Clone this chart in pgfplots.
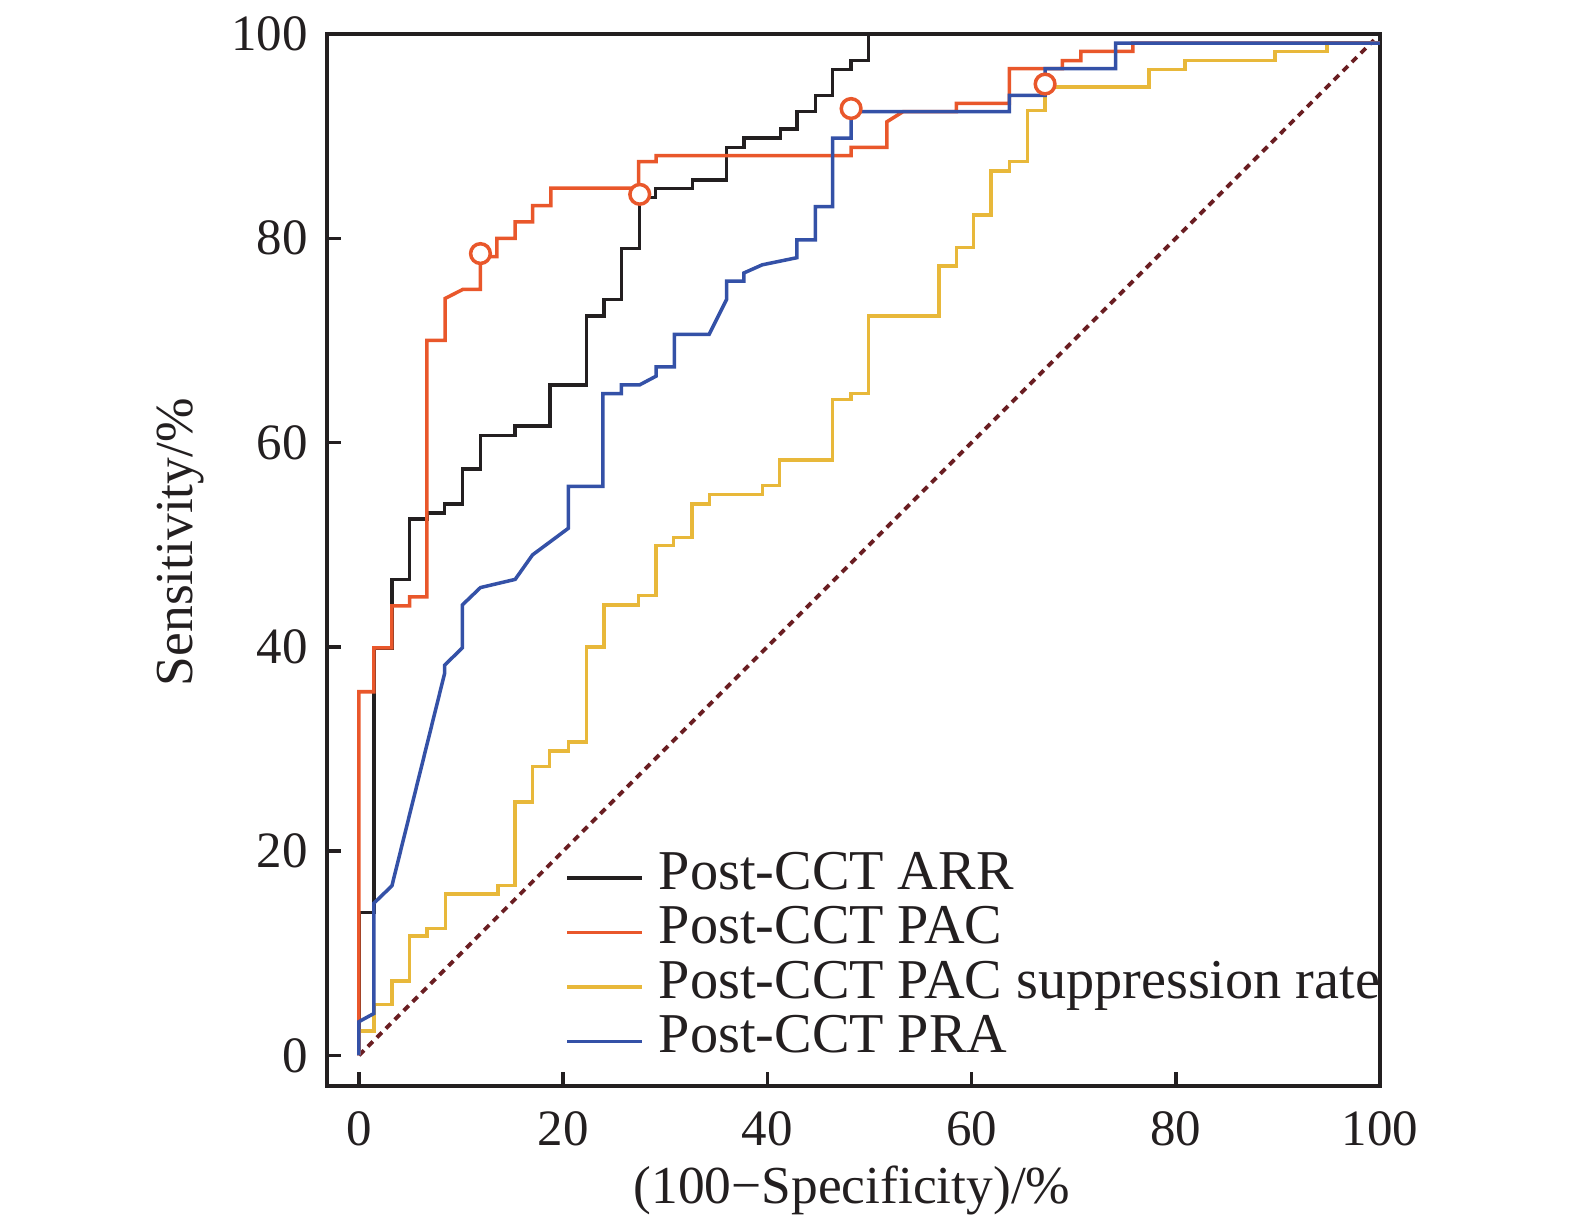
\documentclass[border=0pt]{standalone}
\usepackage{fontspec}
\setmainfont{Liberation Serif}
\usepackage{pgfplots}
\pgfplotsset{compat=1.18}
\definecolor{cblack}{HTML}{231F20}
\definecolor{corange}{HTML}{E9572B}
\definecolor{cyellow}{HTML}{E8B83A}
\definecolor{cblue}{HTML}{3451A7}
\definecolor{cdiag}{HTML}{6A1E22}
\begin{document}
\begin{tikzpicture}
\begin{axis}[
 at={(0,0)}, anchor=south west,
 scale only axis, width=10.53cm, height=10.52cm,
 xmin=-3.13, xmax=100, ymin=-3.0, ymax=100,
 axis line style={line width=1pt, color=cblack},
 tick align=inside, tick pos=left, major tick length=0.14cm,
 tick style={line width=1pt, color=cblack},
 xtick={0,20,...,100}, ytick={0,20,...,100},
 /pgf/number format/assume math mode=true,
 ticklabel style={font=\fontsize{14.5}{17}\selectfont, text=cblack},
 xticklabel style={yshift=-0.13cm},
 yticklabel style={xshift=-0.07cm},
 xlabel={(100−Specificity)/\%}, ylabel={Sensitivity/\%},
 label style={font=\fontsize{15.2}{18}\selectfont, text=cblack},
 xlabel style={at={(axis description cs:0.4986,-0.0989)}, anchor=center},
 ylabel style={at={(axis description cs:-0.1387,0.517)}, anchor=center},
 legend style={at={(axis cs:20.15,20.1)}, anchor=north west, draw=none, fill=none,
   inner sep=0pt, row sep=0pt, column sep=0.15cm,
   font=\fontsize{16}{16}\selectfont, text=cblack,
   nodes={inner sep=0pt, text height=11pt, text depth=4.5pt}},
 legend cell align=left,
 legend image code/.code={\draw[#1] (0cm,0cm) -- (0.75cm,0cm);},
]
\addlegendimage{line width=1pt, cblack}
\addlegendentry{Post-CCT ARR}
\addlegendimage{line width=1pt, corange}
\addlegendentry{Post-CCT PAC}
\addlegendimage{line width=1pt, cyellow}
\addlegendentry{Post-CCT PAC suppression rate}
\addlegendimage{line width=1pt, cblue}
\addlegendentry{Post-CCT PRA}

% reference diagonal
\addplot[forget plot, cdiag, line width=1.1pt, dash pattern=on 2pt off 1.6pt] coordinates {(0,0)(99.4,99.4)};

% ARR
\addplot[forget plot, cblack, line width=1pt] coordinates {
(0,0)(0,14.0)(1.47,14.0)(1.47,39.9)(3.23,39.9)(3.23,46.6)(4.97,46.6)(4.97,52.5)(6.66,52.5)(6.66,53.1)(8.39,53.1)(8.39,54.0)(10.13,54.0)(10.13,57.4)(11.9,57.4)(11.9,60.7)(15.3,60.7)(15.3,61.6)(18.7,61.6)(18.7,65.65)(22.3,65.65)(22.3,72.4)(24.0,72.4)(24.0,74.0)(25.7,74.0)(25.7,79.0)(27.5,79.0)(27.5,84.0)(29.06,84.0)(29.06,84.85)(32.65,84.85)(32.65,85.7)(36.0,85.7)(36.0,88.9)(37.7,88.9)(37.7,89.8)(41.3,89.8)(41.3,90.7)(42.9,90.7)(42.9,92.4)(44.7,92.4)(44.7,93.96)(46.4,93.96)(46.4,96.5)(48.2,96.5)(48.2,97.4)(49.9,97.4)(49.9,100)(100,100)};

% PAC suppression rate
\addplot[forget plot, cyellow, line width=1pt] coordinates {
(0,0)(0,2.38)(1.47,2.38)(1.47,5.0)(3.23,5.0)(3.23,7.3)(4.97,7.3)(4.97,11.7)(6.66,11.7)(6.66,12.4)(8.46,12.4)(8.46,15.8)(13.6,15.8)(13.6,16.65)(15.3,16.65)(15.3,24.8)(17.0,24.8)(17.0,28.3)(18.67,28.3)(18.67,29.8)(20.5,29.8)(20.5,30.7)(22.3,30.7)(22.3,40.0)(24.0,40.0)(24.0,44.1)(27.4,44.1)(27.4,45.0)(29.1,45.0)(29.1,49.9)(30.8,49.9)(30.8,50.7)(32.6,50.7)(32.6,54.0)(34.35,54.0)(34.35,54.9)(39.5,54.9)(39.5,55.8)(41.2,55.8)(41.2,58.3)(46.4,58.3)(46.4,64.2)(48.2,64.2)(48.2,64.8)(49.9,64.8)(49.9,72.4)(56.8,72.4)(56.8,77.3)(58.5,77.3)(58.5,79.1)(60.2,79.1)(60.2,82.3)(61.9,82.3)(61.9,86.6)(63.7,86.6)(63.7,87.5)(65.5,87.5)(65.5,92.5)(67.2,92.5)(67.2,94.8)(77.4,94.8)(77.4,96.5)(80.9,96.5)(80.9,97.4)(89.7,97.4)(89.7,98.3)(94.8,98.3)(94.8,99.1)(100,99.1)};

% PAC
\addplot[forget plot, corange, line width=1pt] coordinates {
(0,0)(0,35.6)(1.47,35.6)(1.47,39.9)(3.23,39.9)(3.23,44.0)(4.97,44.0)(4.97,44.9)(6.66,44.9)(6.66,70.0)(8.43,70.0)(8.43,74.1)(10.19,75.0)(11.9,75.0)(11.9,78.2)(13.5,78.2)(13.5,80.0)(15.3,80.0)(15.3,81.6)(17.0,81.6)(17.0,83.2)(18.8,83.2)(18.8,84.9)(27.4,84.9)(27.4,87.5)(29.1,87.5)(29.1,88.1)(48.2,88.1)(48.2,88.9)(51.7,88.9)(51.7,91.4)(53.3,92.4)(58.5,92.4)(58.5,93.2)(63.7,93.2)(63.7,96.6)(68.9,96.6)(68.9,97.4)(70.7,97.4)(70.7,98.3)(75.8,98.3)(75.8,99.1)(100,99.1)};

% PRA
\addplot[forget plot, cblue, line width=1pt] coordinates {
(0,0)(0,3.3)(1.47,4.1)(1.47,14.9)(3.23,16.6)(8.39,37.4)(8.39,38.2)(10.13,39.9)(10.13,44.1)(11.9,45.8)(15.3,46.6)(17.0,49.0)(20.5,51.6)(20.5,55.7)(23.9,55.7)(23.9,64.8)(25.7,64.8)(25.7,65.65)(27.5,65.65)(29.1,66.5)(29.1,67.4)(30.9,67.4)(30.9,70.6)(34.3,70.6)(36.0,74.0)(36.0,75.8)(37.7,75.8)(37.7,76.6)(39.5,77.4)(42.9,78.1)(42.9,79.85)(44.7,79.85)(44.7,83.1)(46.4,83.1)(46.4,89.8)(48.2,89.8)(48.2,92.4)(63.7,92.4)(63.7,94.0)(67.2,94.0)(67.2,96.6)(74.1,96.6)(74.1,99.1)(100,99.1)};

% optimal cut-off points
\addplot[forget plot, only marks, mark=*, mark size=2.8pt, mark options={draw=corange, fill=white, line width=1pt}] coordinates {(11.9,78.5)(27.5,84.3)(48.2,92.7)(67.2,95.1)};
\end{axis}
\pgfresetboundingbox
\path (-3.27cm,-1.38cm) rectangle (12.48cm,10.86cm);
\end{tikzpicture}
\end{document}
